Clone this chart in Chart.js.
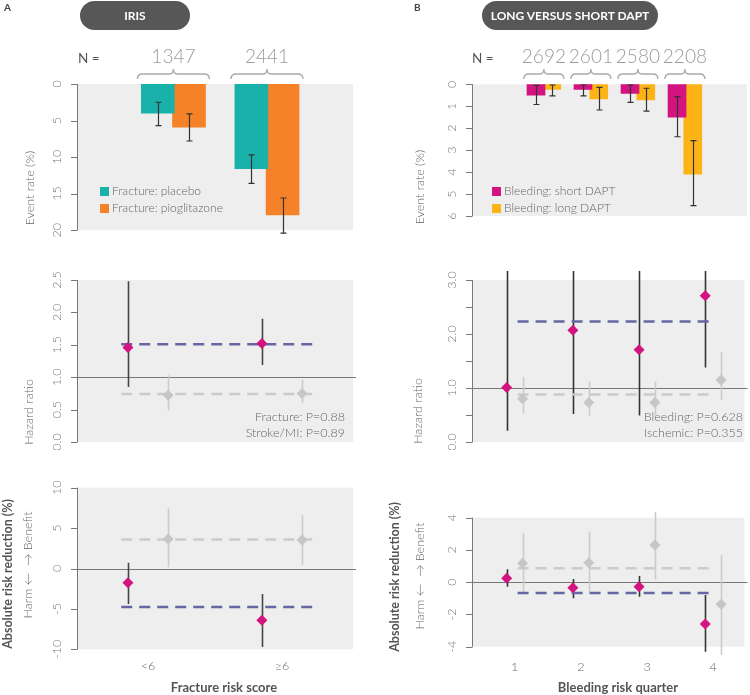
<!DOCTYPE html>
<html>
<head>
<meta charset="utf-8">
<script src="https://cdn.jsdelivr.net/npm/chart.js@4.4.1/dist/chart.umd.min.js"></script>
<style>
  body { margin: 0; background: #fff; font-family: Lato, "Open Sans", sans-serif; }
  #page { position: relative; width: 750px; height: 695px; overflow: hidden; }
  .box { position: absolute; }
  .pill { position: absolute; top: 1px; height: 29px; line-height: 29px; border-radius: 15px;
          background: #575757; color: #fff; font-weight: bold; font-size: 12px; text-align: center; }
  .tag { position: absolute; top: 1px; font-size: 10px; font-weight: bold; color: #444; }
</style>
</head>
<body>
<div id="page">
  <div class="box" style="left:0;top:0;width:375px;height:240px"><canvas id="a1"></canvas></div>
  <div class="box" style="left:375px;top:0;width:375px;height:240px"><canvas id="b1"></canvas></div>
  <div class="box" style="left:0;top:240px;width:375px;height:210px"><canvas id="a2"></canvas></div>
  <div class="box" style="left:375px;top:240px;width:375px;height:210px"><canvas id="b2"></canvas></div>
  <div class="box" style="left:0;top:450px;width:375px;height:245px"><canvas id="a3"></canvas></div>
  <div class="box" style="left:375px;top:450px;width:375px;height:245px"><canvas id="b3"></canvas></div>

  <div class="tag" style="left:4px">A</div>
  <div class="pill" style="left:80px;width:110px">IRIS</div>
  <div class="tag" style="left:414px">B</div>
  <div class="pill" style="left:482px;width:176px">LONG VERSUS SHORT DAPT</div>
</div>
<script>
// ---- IRIS (fracture risk score) ----
const fractureGroups = ['<6', '≥6'];
const fractureN = ['1347', '2441'];
const placeboRate = [4.0, 11.6];
const placeboLo = [2.5, 9.7];
const placeboHi = [5.7, 13.6];
const pioRate = [5.9, 17.9];
const pioLo = [4.1, 15.6];
const pioHi = [7.8, 20.4];

const fracHR = [1.46, 1.52];
const fracHRLo = [0.85, 1.19];
const fracHRHi = [2.48, 1.90];
const strokeHR = [0.72, 0.75];
const strokeHRLo = [0.49, 0.60];
const strokeHRHi = [1.03, 0.96];
const fracHRPooled = 1.51;
const strokeHRPooled = 0.74;

const fracARR = [-1.75, -6.4];
const fracARRLo = [-4.4, -9.7];
const fracARRHi = [0.7, -3.15];
const strokeARR = [3.65, 3.53];
const strokeARRLo = [0.14, 0.43];
const strokeARRHi = [7.44, 6.62];
const fracARRPooled = -4.76;
const strokeARRPooled = 3.6;

// ---- long versus short DAPT (bleeding risk quarter) ----
const quarters = ['1', '2', '3', '4'];
const dapN = ['2692', '2601', '2580', '2208'];
const shortRate = [0.49, 0.23, 0.41, 1.50];
const shortLo = [0.05, 0.02, 0.03, 0.56];
const shortHi = [0.92, 0.53, 0.82, 2.39];
const longRate = [0.23, 0.67, 0.71, 4.09];
const longLo = [0.03, 0.14, 0.18, 2.57];
const longHi = [0.53, 1.17, 1.22, 5.53];

const bleedHR = [1.01, 2.07, 1.71, 2.71];
const bleedHRLo = [0.21, 0.52, 0.49, 1.38];
const bleedHRHi = [3.4, 3.4, 3.4, 3.4];   // run off the top of the panel
const ischHR = [0.80, 0.73, 0.73, 1.15];
const ischHRLo = [0.53, 0.49, 0.48, 0.78];
const ischHRHi = [1.20, 1.12, 1.12, 1.67];
const bleedHRPooled = 2.23;
const ischHRPooled = 0.88;

const bleedARR = [0.24, -0.34, -0.28, -2.59];
const bleedARRLo = [-0.28, -1.0, -0.9, -4.31];
const bleedARRHi = [0.80, 0.20, 0.38, -0.8];
const ischARR = [1.17, 1.21, 2.30, -1.37];
const ischARRLo = [-0.69, -0.69, 0.18, -4.51];
const ischARRHi = [3.03, 3.13, 4.37, 1.68];
const bleedARRPooled = -0.67;
const ischARRPooled = 0.86;

// tick labels
const rateTicksA = [0, 5, 10, 15, 20];
const rateTicksB = [0, 1, 2, 3, 4, 5, 6];
const hrTicksA = [0, 0.5, 1, 1.5, 2, 2.5];
const hrLabelsA = ['0.0', '0.5', '1.0', '1.5', '2.0', '2.5'];
const hrTicksB = [0, 0.5, 1, 1.5, 2, 2.5, 3];
const hrLabelsB = ['0.0', '', '1.0', '', '2.0', '', '3.0'];
const arrTicksA = [-10, -5, 0, 5, 10];
const arrTicksB = [-4, -2, 0, 2, 4];

const C = {
  teal: '#19b2ab', orange: '#f58229', magenta: '#d3137f', yellow: '#fcb316',
  purple: '#6566a4', grey: '#cbcbcb', bg: '#eeeeee', axis: '#777', text: '#666'
};
const FONT = 'Lato, "Open Sans", sans-serif';

function vText(ctx, text, x, y, font, color) {
  ctx.save();
  ctx.translate(x, y);
  ctx.rotate(-Math.PI / 2);
  ctx.font = font;
  ctx.fillStyle = color;
  ctx.textAlign = 'center';
  ctx.textBaseline = 'middle';
  ctx.fillText(text, 0, 0);
  ctx.restore();
}

function drawErrors(chart, list) {
  const { ctx, chartArea: a, scales: { x, y } } = chart;
  ctx.save();
  ctx.beginPath();
  ctx.rect(a.left, a.top, a.right - a.left, a.bottom - a.top);
  ctx.clip();
  list.forEach(e => {
    ctx.strokeStyle = e.color;
    ctx.lineWidth = e.width;
    ctx.beginPath();
    e.x.forEach((xv, i) => {
      const px = Math.round(x.getPixelForValue(xv)) + 0.5;
      const p1 = y.getPixelForValue(e.lo[i]);
      const p2 = y.getPixelForValue(e.hi[i]);
      ctx.moveTo(px, p1);
      ctx.lineTo(px, p2);
      if (e.cap) {
        ctx.moveTo(px - e.cap, p1); ctx.lineTo(px + e.cap, p1);
        ctx.moveTo(px - e.cap, p2); ctx.lineTo(px + e.cap, p2);
      }
    });
    ctx.stroke();
  });
  ctx.restore();
}

function brace(ctx, x1, x2) {
  const xm = (x1 + x2) / 2, yb = 79, ym = 74, yp = 69;
  ctx.beginPath();
  ctx.moveTo(x1, yb);
  ctx.quadraticCurveTo(x1, ym, x1 + 5, ym);
  ctx.lineTo(xm - 4, ym);
  ctx.quadraticCurveTo(xm, ym, xm, yp);
  ctx.quadraticCurveTo(xm, ym, xm + 4, ym);
  ctx.lineTo(x2 - 5, ym);
  ctx.quadraticCurveTo(x2, ym, x2, yb);
  ctx.stroke();
}

const decor = {
  id: 'decor',
  beforeDatasetsDraw(chart, args, o) {
    const { ctx, chartArea: a, scales: { x, y } } = chart;
    ctx.save();
    // grey panel
    const g1 = y.getPixelForValue(o.bg[0]), g2 = y.getPixelForValue(o.bg[1]);
    ctx.fillStyle = C.bg;
    ctx.fillRect(a.left, Math.min(g1, g2), a.right - a.left, Math.abs(g2 - g1));
    // y axis
    const first = y.getPixelForValue(o.yTicks[0]);
    const last = y.getPixelForValue(o.yTicks[o.yTicks.length - 1]);
    ctx.strokeStyle = C.axis;
    ctx.lineWidth = 1;
    ctx.beginPath();
    ctx.moveTo(a.left + 0.5, first);
    ctx.lineTo(a.left + 0.5, last);
    o.yTicks.forEach(v => {
      const py = Math.round(y.getPixelForValue(v)) + 0.5;
      ctx.moveTo(a.left - 6, py);
      ctx.lineTo(a.left + 0.5, py);
    });
    ctx.stroke();
    o.yTicks.forEach((v, i) => {
      const lab = o.yLabels ? o.yLabels[i] : String(v);
      if (lab) vText(ctx, lab, a.left - 20, y.getPixelForValue(v), '300 12.5px ' + FONT, '#777');
    });
    (o.titles || []).forEach(t => vText(ctx, t.text, t.x, t.y, t.font, t.color));
    // reference line
    if (o.ref !== undefined) {
      const py = Math.round(y.getPixelForValue(o.ref)) + 0.5;
      ctx.strokeStyle = '#777';
      ctx.beginPath();
      ctx.moveTo(a.left, py);
      ctx.lineTo(a.right + 3, py);
      ctx.stroke();
    }
    // x labels
    if (o.xLabels) {
      ctx.font = '300 12.5px ' + FONT;
      ctx.fillStyle = '#666';
      ctx.textAlign = 'center';
      ctx.textBaseline = 'middle';
      o.xLabels.forEach((lab, i) => ctx.fillText(lab, x.getPixelForValue(i + 1), o.xLabelY));
      ctx.font = 'bold 13px ' + FONT;
      ctx.fillStyle = '#555';
      ctx.fillText(o.xTitle.text, o.xTitle.x, o.xTitle.y);
    }
    // p-values
    if (o.notes) {
      ctx.font = '300 12.5px ' + FONT;
      ctx.fillStyle = '#666';
      ctx.textAlign = 'right';
      ctx.textBaseline = 'middle';
      o.notes.forEach(n => ctx.fillText(n.text, n.x, n.y));
    }
    // legend
    if (o.legend) {
      ctx.font = '300 12px ' + FONT;
      ctx.textAlign = 'left';
      ctx.textBaseline = 'middle';
      o.legend.forEach((l, i) => {
        const yy = o.legendY + i * 17;
        ctx.fillStyle = l.color;
        ctx.fillRect(o.legendX, yy - 4.5, 9, 9);
        ctx.fillStyle = '#666';
        ctx.fillText(l.text, o.legendX + 12, yy);
      });
    }
    // sample sizes with braces
    if (o.groupN) {
      ctx.font = '13.5px ' + FONT;
      ctx.fillStyle = '#555';
      ctx.textAlign = 'left';
      ctx.textBaseline = 'alphabetic';
      ctx.fillText('N =', o.nLabelX, 63);
      ctx.font = '300 19px ' + FONT;
      ctx.fillStyle = '#9b9b9b';
      ctx.textAlign = 'center';
      ctx.strokeStyle = '#aaa';
      ctx.lineWidth = 1.4;
      o.groupN.forEach((n, i) => {
        const c = x.getPixelForValue(i + 1);
        ctx.fillText(n, c, 63);
        brace(ctx, c - o.braceHalf, c + o.braceHalf);
      });
    }
    ctx.restore();
    if (o.errors && !o.errorsOnTop) drawErrors(chart, o.errors);
  },
  afterDatasetsDraw(chart, args, o) {
    if (o.errors && o.errorsOnTop) drawErrors(chart, o.errors);
  }
};

function barChart(id, cfg) {
  new Chart(document.getElementById(id), {
    type: 'bar',
    data: {
      datasets: cfg.series.map(s => ({
        data: s.values.map((v, i) => ({ x: i + 1 + s.shift, y: v })),
        backgroundColor: s.color,
        barThickness: cfg.barWidth,
        grouped: false
      }))
    },
    options: {
      responsive: true, maintainAspectRatio: false, animation: false,
      layout: { padding: cfg.padding },
      scales: {
        x: { type: 'linear', display: false, min: cfg.xRange[0], max: cfg.xRange[1] },
        y: { display: false, reverse: true, min: cfg.yRange[0], max: cfg.yRange[1] }
      },
      plugins: {
        legend: { display: false }, tooltip: { enabled: false },
        decor: Object.assign({
          errorsOnTop: true,
          errors: cfg.series.map(s => ({
            x: s.values.map((v, i) => i + 1 + s.shift), lo: s.lo, hi: s.hi,
            color: '#333', width: 1.2, cap: 3
          }))
        }, cfg.decor)
      }
    },
    plugins: [decor]
  });
}

function forestChart(id, cfg) {
  const datasets = [];
  cfg.series.forEach(s => {
    datasets.push({
      data: [{ x: cfg.pooledSpan[0], y: s.pooled }, { x: cfg.pooledSpan[1], y: s.pooled }],
      showLine: true, pointRadius: 0, borderColor: s.dash, borderWidth: 2.5,
      borderDash: [11, 7], order: 2
    });
  });
  cfg.series.forEach(s => {
    datasets.push({
      data: s.values.map((v, i) => ({ x: i + 1 + s.shift, y: v })),
      pointStyle: 'rectRot', pointRadius: 5.5, backgroundColor: s.color,
      borderColor: s.color, borderWidth: 0, order: s.front ? 0 : 1
    });
  });
  new Chart(document.getElementById(id), {
    type: 'scatter',
    data: { datasets },
    options: {
      responsive: true, maintainAspectRatio: false, animation: false,
      layout: { padding: cfg.padding },
      scales: {
        x: { type: 'linear', display: false, min: cfg.xRange[0], max: cfg.xRange[1] },
        y: { display: false, min: cfg.yRange[0], max: cfg.yRange[1] }
      },
      plugins: {
        legend: { display: false }, tooltip: { enabled: false },
        decor: Object.assign({
          errors: cfg.series.map(s => ({
            x: s.values.map((v, i) => i + 1 + s.shift), lo: s.lo, hi: s.hi,
            color: s.ci, width: 1.6
          }))
        }, cfg.decor)
      }
    },
    plugins: [decor]
  });
}

const yTitleFont = '300 12.5px ' + FONT;
const boldTitleFont = 'bold 12.5px ' + FONT;

// ---------- panel A ----------
barChart('a1', {
  padding: { left: 77, right: 22, top: 84, bottom: 4 },
  xRange: [0.265, 2.624], yRange: [0, 20.8], barWidth: 33,
  series: [
    { values: placeboRate, lo: placeboLo, hi: placeboHi, color: C.teal, shift: -0.1667 },
    { values: pioRate, lo: pioLo, hi: pioHi, color: C.orange, shift: 0.1667 }
  ],
  decor: {
    bg: [0, 20], yTicks: rateTicksA,
    titles: [{ text: 'Event rate (%)', x: 30, y: 188, font: yTitleFont, color: C.text }],
    legend: [{ color: C.teal, text: 'Fracture: placebo' }, { color: C.orange, text: 'Fracture: pioglitazone' }],
    legendX: 100, legendY: 191.5,
    groupN: fractureN, nLabelX: 78, braceHalf: 36
  }
});

forestChart('a2', {
  padding: { left: 77, right: 22, top: 33.5, bottom: 8 },
  xRange: [0.47, 2.53], yRange: [0, 2.6], pooledSpan: [0.8, 2.25],
  series: [
    { values: strokeHR, lo: strokeHRLo, hi: strokeHRHi, pooled: strokeHRPooled, color: '#c6c6c6', ci: C.grey, dash: C.grey, shift: 0.15 },
    { values: fracHR, lo: fracHRLo, hi: fracHRHi, pooled: fracHRPooled, color: C.magenta, ci: '#444', dash: C.purple, shift: -0.15, front: true }
  ],
  decor: {
    bg: [0, 2.5], yTicks: hrTicksA, yLabels: hrLabelsA, ref: 1,
    titles: [{ text: 'Hazard ratio', x: 29, y: 172, font: yTitleFont, color: C.text }],
    notes: [{ text: 'Fracture: P=0.88', x: 345, y: 177 }, { text: 'Stroke/MI: P=0.89', x: 345, y: 193 }]
  }
});

forestChart('a3', {
  padding: { left: 77, right: 22, top: 37.7, bottom: 45.7 },
  xRange: [0.47, 2.53], yRange: [-10, 10], pooledSpan: [0.8, 2.25],
  series: [
    { values: strokeARR, lo: strokeARRLo, hi: strokeARRHi, pooled: strokeARRPooled, color: '#c6c6c6', ci: C.grey, dash: C.grey, shift: 0.15 },
    { values: fracARR, lo: fracARRLo, hi: fracARRHi, pooled: fracARRPooled, color: C.magenta, ci: '#444', dash: C.purple, shift: -0.15, front: true }
  ],
  decor: {
    bg: [-10, 10], yTicks: arrTicksA, ref: 0,
    titles: [
      { text: 'Absolute risk reduction (%)', x: 8, y: 124, font: boldTitleFont, color: '#555' },
      { text: 'Harm \u2190  \u2192 Benefit', x: 28, y: 115, font: yTitleFont, color: C.text }
    ],
    xLabels: fractureGroups, xLabelY: 216,
    xTitle: { text: 'Fracture risk score', x: 224, y: 238 }
  }
});

// ---------- panel B ----------
barChart('b1', {
  padding: { left: 97, right: 3, top: 84.3, bottom: 19.6 },
  xRange: [0.2022, 4.59], yRange: [0, 6.2], barWidth: 18,
  series: [
    { values: shortRate, lo: shortLo, hi: shortHi, color: C.magenta, shift: -0.1675 },
    { values: longRate, lo: longLo, hi: longHi, color: C.yellow, shift: 0.1675 }
  ],
  decor: {
    bg: [0, 6], yTicks: rateTicksB,
    titles: [{ text: 'Event rate (%)', x: 45, y: 187, font: yTitleFont, color: C.text }],
    legend: [{ color: C.magenta, text: 'Bleeding: short DAPT' }, { color: C.yellow, text: 'Bleeding: long DAPT' }],
    legendX: 117, legendY: 191.5,
    groupN: dapN, nLabelX: 97, braceHalf: 20
  }
});

forestChart('b2', {
  padding: { left: 97, right: 3, top: 31, bottom: 8 },
  xRange: [0.356, 4.473], yRange: [0, 3.1667], pooledSpan: [1.045, 3.955],
  series: [
    { values: ischHR, lo: ischHRLo, hi: ischHRHi, pooled: ischHRPooled, color: '#c6c6c6', ci: C.grey, dash: C.grey, shift: 0.12 },
    { values: bleedHR, lo: bleedHRLo, hi: bleedHRHi, pooled: bleedHRPooled, color: C.magenta, ci: '#333', dash: C.purple, shift: -0.12, front: true }
  ],
  decor: {
    bg: [0, 3], yTicks: hrTicksB, yLabels: hrLabelsB, ref: 1,
    titles: [{ text: 'Hazard ratio', x: 43, y: 171, font: yTitleFont, color: C.text }],
    notes: [{ text: 'Bleeding: P=0.628', x: 368, y: 177 }, { text: 'Ischemic: P=0.355', x: 368, y: 193 }]
  }
});

forestChart('b3', {
  padding: { left: 97, right: 3, top: 60.4, bottom: 38.6 },
  xRange: [0.356, 4.473], yRange: [-4.6, 4.45], pooledSpan: [1.045, 3.955],
  series: [
    { values: ischARR, lo: ischARRLo, hi: ischARRHi, pooled: ischARRPooled, color: '#c6c6c6', ci: C.grey, dash: C.grey, shift: 0.12 },
    { values: bleedARR, lo: bleedARRLo, hi: bleedARRHi, pooled: bleedARRPooled, color: C.magenta, ci: '#333', dash: C.purple, shift: -0.12, front: true }
  ],
  decor: {
    bg: [-4, 4], yTicks: arrTicksB, ref: 0,
    titles: [
      { text: 'Absolute risk reduction (%)', x: 20, y: 127, font: boldTitleFont, color: '#555' },
      { text: 'Harm \u2190  \u2192 Benefit', x: 45, y: 126, font: yTitleFont, color: C.text }
    ],
    xLabels: quarters, xLabelY: 217,
    xTitle: { text: 'Bleeding risk quarter', x: 243, y: 238 }
  }
});
</script>
</body>
</html>
